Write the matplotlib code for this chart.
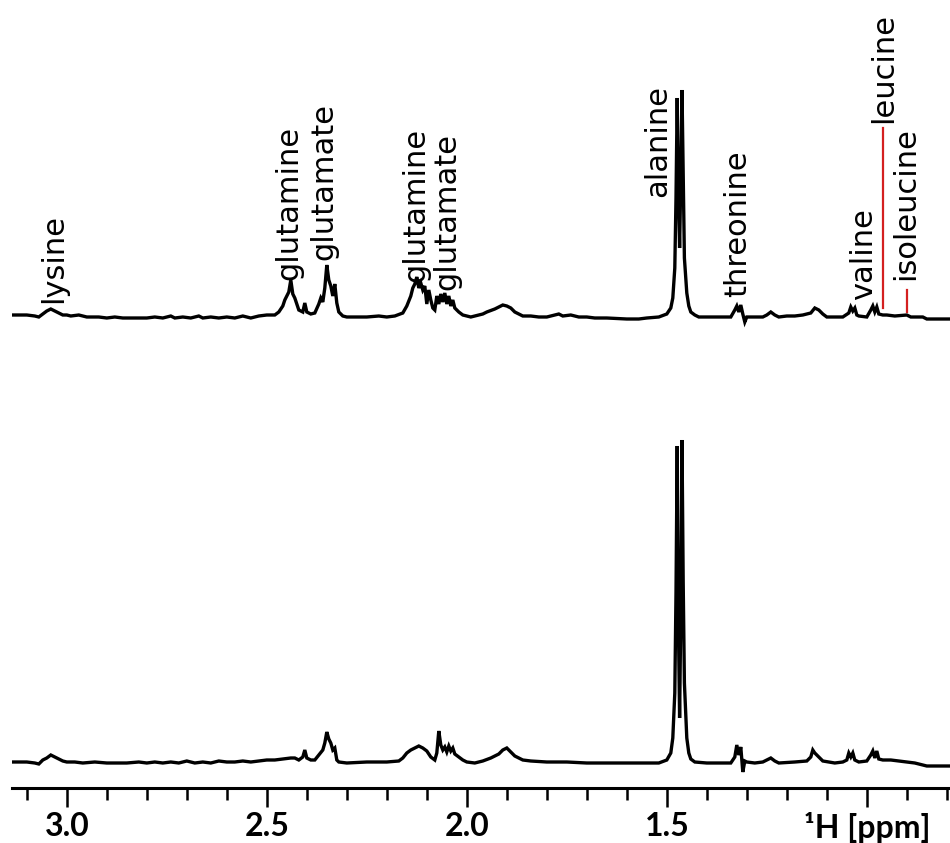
import numpy as np
import matplotlib
matplotlib.use("Agg")
import matplotlib.pyplot as plt
from matplotlib.ticker import MultipleLocator, FixedLocator, FixedFormatter

# upper spectrum: chemical shift (ppm) and intensity above its baseline
top_ppm = [3.135, 3.10, 3.08, 3.07, 3.06, 3.05, 3.04, 3.03, 3.02, 3.01, 3.00, 2.99, 2.97, 2.95,
           2.92, 2.90, 2.88, 2.86, 2.80, 2.78, 2.76, 2.74, 2.73, 2.71, 2.69, 2.67, 2.66, 2.64,
           2.62, 2.60, 2.58, 2.56, 2.54, 2.52, 2.50, 2.48, 2.47, 2.46, 2.455, 2.45, 2.445, 2.44,
           2.435, 2.43, 2.425, 2.42, 2.41, 2.405, 2.40, 2.39, 2.38, 2.37, 2.365, 2.36, 2.355, 2.35,
           2.345, 2.34, 2.335, 2.33, 2.325, 2.32, 2.31, 2.30, 2.28, 2.25, 2.22, 2.20, 2.18, 2.16,
           2.15, 2.14, 2.135, 2.13, 2.125, 2.12, 2.115, 2.11, 2.105, 2.10, 2.095, 2.09, 2.085, 2.08,
           2.075, 2.07, 2.065, 2.06, 2.055, 2.05, 2.045, 2.04, 2.035, 2.03, 2.02, 2.01, 2.00, 1.99,
           1.98, 1.96, 1.95, 1.93, 1.91, 1.90, 1.89, 1.88, 1.87, 1.86, 1.84, 1.82, 1.80, 1.78,
           1.77, 1.76, 1.74, 1.72, 1.70, 1.68, 1.65, 1.60, 1.57, 1.55, 1.52, 1.50, 1.49, 1.485,
           1.48, 1.477, 1.474, 1.471, 1.468, 1.465, 1.462, 1.459, 1.456, 1.45, 1.445, 1.44, 1.43, 1.42,
           1.40, 1.36, 1.34, 1.33, 1.325, 1.32, 1.315, 1.31, 1.305, 1.30, 1.28, 1.26, 1.25, 1.24,
           1.23, 1.22, 1.20, 1.18, 1.16, 1.14, 1.13, 1.12, 1.11, 1.10, 1.08, 1.06, 1.045, 1.04,
           1.035, 1.03, 1.025, 1.02, 1.00, 0.99, 0.985, 0.98, 0.975, 0.97, 0.96, 0.95, 0.93, 0.90,
           0.89, 0.86, 0.85, 0.80, 0.79]
top_int = [3, 3, 2, 1, 4, 7, 9, 7, 5, 3, 3, 2, 3, 1,
           1, 0, 1, 0, 0, 1, 0, 2, 0, 1, 0, 2, 0, 1,
           0, 1, 0, 2, 0, 2, 3, 3, 6, 12, 18, 22, 26, 38,
           24, 20, 14, 8, 6, 15, 6, 4, 5, 14, 20, 16, 30, 53,
           38, 32, 22, 34, 15, 6, 2, 1, 1, 1, 2, 1, 2, 5,
           12, 22, 30, 34, 41, 30, 35, 28, 32, 14, 28, 18, 10, 8,
           22, 14, 24, 16, 25, 14, 22, 12, 18, 10, 6, 3, 2, 1,
           2, 4, 6, 9, 13, 12, 10, 6, 4, 2, 2, 1, 1, 3,
           4, 2, 3, 1, 1, 0, 0, -1, -1, 0, 1, 4, 10, 20,
           50, 120, 220, 130, 70, 140, 228, 140, 60, 25, 12, 6, 3, 1,
           1, 1, 1, 8, 12, 6, 13, 4, -4, 1, 1, 1, 3, 6,
           3, 1, 2, 2, 3, 5, 10, 8, 4, 1, 1, 1, 5, 11,
           7, 10, 3, 2, 1, 8, 12, 6, 11, 4, 3, 3, 2, 3,
           1, 1, -1, -1, -1]

# lower spectrum
bot_ppm = [3.135, 3.10, 3.08, 3.07, 3.06, 3.05, 3.04, 3.03, 3.02, 3.01, 3.00, 2.98, 2.96, 2.93,
           2.90, 2.88, 2.85, 2.82, 2.80, 2.78, 2.76, 2.74, 2.72, 2.70, 2.68, 2.66, 2.64, 2.62,
           2.60, 2.58, 2.56, 2.54, 2.52, 2.50, 2.48, 2.46, 2.44, 2.43, 2.42, 2.41, 2.405, 2.40,
           2.39, 2.38, 2.37, 2.36, 2.355, 2.35, 2.345, 2.34, 2.335, 2.33, 2.325, 2.32, 2.30, 2.25,
           2.20, 2.17, 2.16, 2.15, 2.14, 2.13, 2.12, 2.11, 2.10, 2.09, 2.08, 2.075, 2.07, 2.065,
           2.06, 2.055, 2.05, 2.045, 2.04, 2.035, 2.03, 2.02, 2.01, 2.00, 1.98, 1.96, 1.94, 1.92,
           1.91, 1.90, 1.89, 1.88, 1.86, 1.84, 1.80, 1.75, 1.70, 1.60, 1.52, 1.50, 1.49, 1.485,
           1.48, 1.477, 1.474, 1.471, 1.468, 1.465, 1.462, 1.459, 1.456, 1.45, 1.445, 1.44, 1.43, 1.40,
           1.34, 1.33, 1.325, 1.32, 1.315, 1.31, 1.305, 1.30, 1.28, 1.26, 1.25, 1.24, 1.23, 1.22,
           1.18, 1.15, 1.14, 1.135, 1.13, 1.12, 1.11, 1.08, 1.06, 1.05, 1.045, 1.04, 1.035, 1.03,
           1.02, 1.00, 0.99, 0.985, 0.98, 0.975, 0.97, 0.96, 0.94, 0.92, 0.90, 0.88, 0.85, 0.79]
bot_int = [1, 1, 0, -1, 3, 5, 8, 6, 4, 2, 1, 1, 0, 1,
           0, 0, 0, 1, 0, 1, 0, 1, 0, 2, 0, 1, 0, 2,
           1, 1, 2, 1, 2, 3, 3, 4, 5, 5, 3, 6, 13, 5,
           3, 3, 8, 13, 20, 31, 24, 20, 13, 15, 3, 1, 0, 1,
           1, 2, 5, 10, 13, 15, 17, 15, 12, 6, 3, 10, 32, 18,
           13, 16, 11, 17, 12, 15, 9, 6, 3, 1, 0, 2, 5, 9,
           13, 15, 11, 7, 3, 2, 1, 1, 0, 0, 0, 3, 10, 25,
           70, 170, 317, 140, 45, 150, 323, 180, 80, 25, 10, 4, 1, 0,
           0, 6, 18, 8, 16, -9, 2, 1, 0, 1, 3, 5, 2, 0,
           1, 2, 6, 13, 10, 6, 2, 0, 1, 3, 10, 6, 10, 3,
           1, 2, 8, 12, 5, 12, 4, 3, 3, 2, 1, 0, -3, -3]

label_names = ["lysine", "glutamine", "glutamate", "glutamine", "glutamate",
               "alanine", "threonine", "valine", "leucine", "isoleucine"]
label_ppm = [3.034, 2.446, 2.358, 2.128, 2.049, 1.524, 1.324, 1.009, 0.958, 0.902]
label_base = [485, 508, 528, 506, 498, 591, 491, 488, 665, 508]

# leader lines for leucine / isoleucine
lead_ppm = [0.960, 0.900]
lead_lo = [480, 476]
lead_hi = [660, 498]

tick_major = [3.0, 2.5, 2.0, 1.5, 1.0]
tick_text = ["3.0", "2.5", "2.0", "1.5", "\u00b9H [ppm]"]

TOP_BASE = 470
BOT_BASE = 25

fig = plt.figure(figsize=(9.5, 8.43), dpi=100)
ax = fig.add_axes([12 / 950, 55 / 843, 938 / 950, 788 / 843])

ax.plot(top_ppm, np.array(top_int) + TOP_BASE, color="black", lw=2.4, solid_joinstyle="miter")
ax.plot(bot_ppm, np.array(bot_int) + BOT_BASE, color="black", lw=2.4, solid_joinstyle="miter")

for x, lo, hi in zip(lead_ppm, lead_lo, lead_hi):
    ax.plot([x, x], [lo, hi], color="#d42020", lw=1.6)

for name, x, yb in zip(label_names, label_ppm, label_base):
    ax.text(x, yb, name, rotation=90, ha="center", va="bottom",
            fontsize=22, family="DejaVu Sans", color="black")

ax.set_xlim(3.137, 0.792)
ax.set_ylim(0, 788)

for s in ["top", "left", "right"]:
    ax.spines[s].set_visible(False)
ax.spines["bottom"].set_linewidth(2.2)
ax.set_yticks([])

ax.xaxis.set_major_locator(FixedLocator(tick_major))
ax.xaxis.set_major_formatter(FixedFormatter(tick_text))
ax.xaxis.set_minor_locator(MultipleLocator(0.1))
ax.tick_params(axis="x", which="major", length=13.5, width=1.8, direction="out", pad=4)
ax.tick_params(axis="x", which="minor", length=8.5, width=1.8, direction="out")
for lab in ax.get_xticklabels():
    lab.set_fontfamily("Lato")
    lab.set_fontweight("bold")
    lab.set_fontsize(23)

fig.savefig("out.png", dpi=100)
